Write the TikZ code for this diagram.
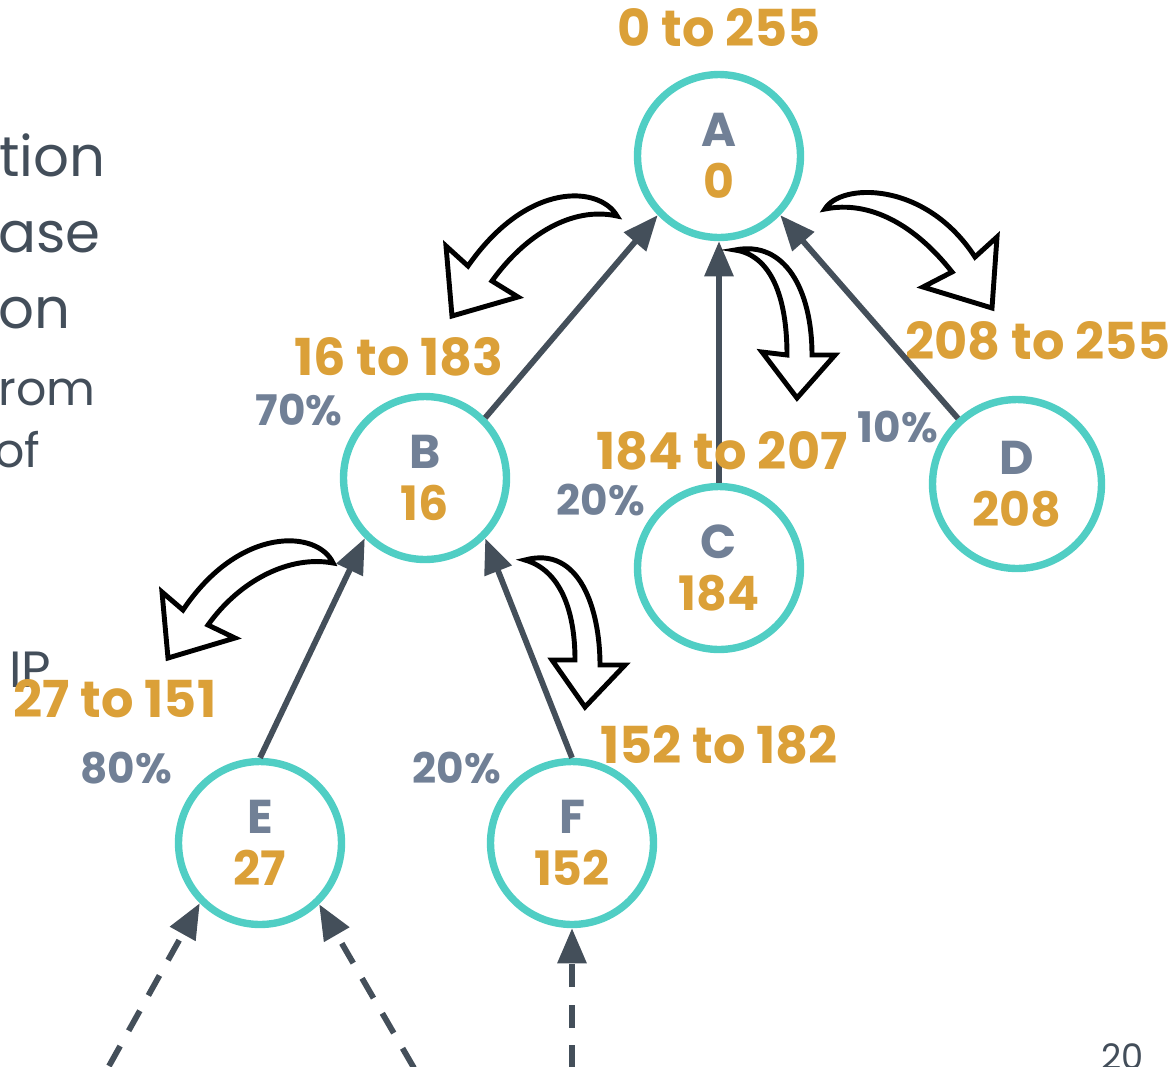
\documentclass[tikz,border=0pt]{standalone}
\usepackage{fontspec}
\setmainfont{Poppins}
\usetikzlibrary{arrows.meta}

\definecolor{ringteal}{RGB}{80,206,196}
\definecolor{rangeorange}{RGB}{219,160,56}
\definecolor{pctgray}{RGB}{113,128,150}
\definecolor{edgeslate}{RGB}{68,79,90}
\definecolor{slidetext}{RGB}{67,78,90}

\begin{document}
\begin{tikzpicture}[x=0.02cm,y=-0.02cm,
  ring/.style={circle, draw=ringteal, line width=4.2pt, minimum size=3.26cm,
    inner sep=0pt, align=center, font=\fontsize{27}{29.5}\selectfont\bfseries},
  rangelbl/.style={text=rangeorange, font=\fontsize{29}{30}\selectfont\bfseries, inner sep=0pt},
  pct/.style={text=pctgray, font=\fontsize{24}{26}\selectfont\bfseries, inner sep=0pt},
  link/.style={draw=edgeslate, line width=3.3pt, -{Triangle[length=20pt,width=16pt]}},
  feed/.style={link, dash pattern=on 13pt off 10pt},
  turn/.style={draw=black, fill=white, line width=2.8pt, line join=miter},
  slide/.style={text=slidetext, inner sep=0pt, anchor=base west}]

\useasboundingbox (0,0) rectangle (1170,1066);
\clip (0,0) rectangle (1170,1066);

% slide text running in from the left
\node[slide, font=\fontsize{32}{36}\selectfont] (t1) at (-1,176) {tion};
\node[slide, font=\fontsize{32}{36}\selectfont] (t2) at (-2,252) {ase};
\node[slide, font=\fontsize{32}{36}\selectfont] (t3) at (-2,328) {on};
\node[slide, font=\fontsize{27}{30}\selectfont] (t4) at (-2,405) {rom};
\node[slide, font=\fontsize{27}{30}\selectfont] (t5) at (-6,467) {of};
\node[slide, font=\fontsize{29}{32}\selectfont] (t6) at (9,687) {IP};
\node[text=slidetext, inner sep=0pt, anchor=north west, font=\fontsize{20}{22}\selectfont] (pg) at (1101,1043) {20};

% tree nodes
\node[ring] (A) at (719,156) {\textcolor{pctgray}{A}\\\textcolor{rangeorange}{0}};
\node[ring] (B) at (425,478) {\textcolor{pctgray}{B}\\\textcolor{rangeorange}{16}};
\node[ring] (C) at (719,568) {\textcolor{pctgray}{C}\\\textcolor{rangeorange}{184}};
\node[ring, minimum size=3.38cm] (D) at (1017,484) {\textcolor{pctgray}{D}\\\textcolor{rangeorange}{208}};
\node[ring] (E) at (260,843) {\textcolor{pctgray}{E}\\\textcolor{rangeorange}{27}};
\node[ring] (F) at (572,843) {\textcolor{pctgray}{F}\\\textcolor{rangeorange}{152}};

% ranges
\node[rangelbl] (rA) at (719,28) {0 to 255};
\node[rangelbl] (rB) at (399,357) {16 to 183};
\node[rangelbl] (rD) at (1038,341) {208 to 255};
\node[rangelbl] (rE) at (115,699) {27 to 151};
\node[rangelbl] (rF) at (719,745) {152 to 182};

% edges to parents
\draw[link] (B.45) -- (A.224);
\draw[link] (C.90) -- (A.270);
\draw[link] (D.132) -- (A.316);
\draw[link] (E.90) -- (B.225);
\draw[link] (F.90) -- (B.315);

\node[rangelbl] (rC) at (722,451) {184 to 207};

% shares
\node[pct] (pB) at (299,410) {70\%};
\node[pct] (pC) at (601,500) {20\%};
\node[pct] (pD) at (898,427) {10\%};
\node[pct] (pE) at (126,768) {80\%};
\node[pct] (pF) at (457,768) {20\%};

% incoming dashed links
\coordinate (inE1) at (109,1066);
\coordinate (inE2) at (414,1068);
\coordinate (inF) at (572,1068);
\draw[feed] (inE1) -- (E.225);
\draw[feed] (inE2) -- (E.314);
\draw[feed] (inF) -- (F.270);

% hollow curved arrows
\draw[turn] (617,216) .. controls (600,186) and (528,180) .. (468,266)
  -- (446,246) -- (452,316) -- (518,297) -- (492,281)
  .. controls (525,235) and (572,206) .. (617,216) -- cycle;
\draw[turn] (825,209) .. controls (840,183) and (925,180) .. (975,257)
  -- (997,237) -- (992,308) -- (923,287) -- (952,272)
  .. controls (915,225) and (870,200) .. (825,209) -- cycle;
\draw[turn] (735,250) .. controls (785,240) and (812,290) .. (812,355)
  -- (835,355) -- (797,398) -- (762,352) -- (787,355)
  .. controls (787,295) and (770,255) .. (735,250) -- cycle;
\draw[turn] (333,563) .. controls (318,530) and (240,525) .. (183,610)
  -- (162,592) -- (168,658) -- (235,638) -- (208,625)
  .. controls (240,580) and (290,555) .. (333,563) -- cycle;
\draw[turn] (525,560) .. controls (580,545) and (600,610) .. (600,665)
  -- (625,665) -- (585,707) -- (552,660) -- (575,660)
  .. controls (575,610) and (560,570) .. (525,560) -- cycle;

\end{tikzpicture}
\end{document}
